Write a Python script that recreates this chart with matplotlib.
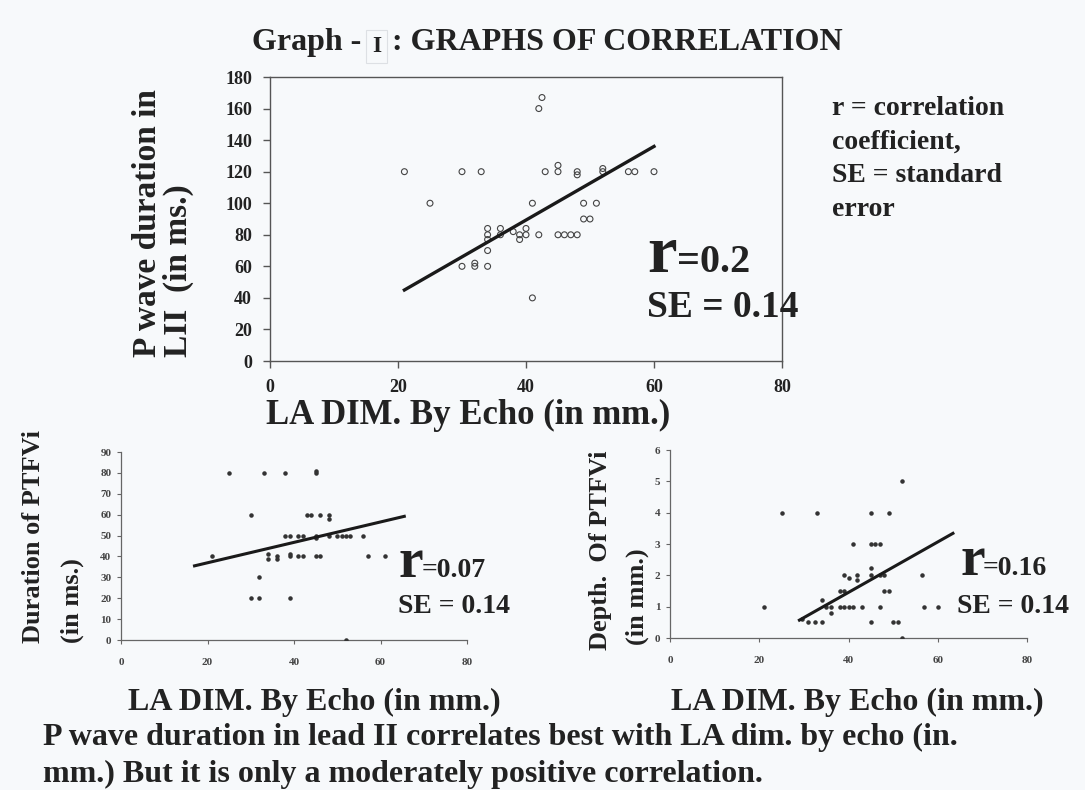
import numpy as np
import matplotlib
matplotlib.use('Agg')
import matplotlib.pyplot as plt

matplotlib.rcParams['font.family'] = ['Liberation Serif', 'DejaVu Serif']
matplotlib.rcParams['font.weight'] = 'bold'
matplotlib.rcParams['text.color'] = '#222222'

W, H = 1085, 790
BG = '#f7f9fb'
INK = '#222222'

# top: P wave duration in LII vs LA dim
la_top = [21, 25, 30, 33, 30, 32, 32, 34, 34, 34, 34, 34, 36, 36, 38, 39, 39, 40, 40,
          41, 41, 42, 42.5, 42, 43, 45, 45, 45, 46, 47, 48, 48, 48, 49, 51, 49, 50,
          52, 52, 56, 57, 60]
pw_top = [120, 100, 120, 120, 60, 62, 60, 84, 80, 77, 70, 60, 84, 80, 82, 80, 77, 84, 80,
          100, 40, 160, 167, 80, 120, 120, 124, 80, 80, 80, 80, 120, 118, 100, 100, 90, 90,
          120, 122, 120, 120, 120]
trend_top_x = [21, 60]
trend_top_y = [45, 136]

# bottom left: duration of PTFV1
la_bl = [25, 33, 38, 45, 45, 30, 43, 44, 46, 48, 48, 38, 39, 41, 42, 45, 45, 48, 50,
         51, 52, 53, 56, 21, 34, 34, 36, 36, 39, 39, 41, 42, 45, 46, 57, 61, 32, 30,
         32, 39, 52]
ptf_dur = [80, 80, 80, 80, 81, 60, 60, 60, 60, 60, 58, 50, 50, 50, 50, 50, 49, 50, 50,
           50, 50, 50, 50, 40, 41, 39, 40, 39, 41, 40, 40, 40, 40, 40, 40, 40, 30, 20,
           20, 20, 0]
trend_bl_x = [17, 65.5]
trend_bl_y = [35.5, 59.2]

# bottom right: depth of PTFV1
la_br = [21, 25, 33, 45, 49, 52, 41, 45, 46, 47, 39, 40, 42, 42, 45, 45, 47, 48, 56.5,
         38, 39, 48, 49, 34, 35, 36, 38, 39, 40, 41, 43, 47, 36, 57, 60, 29.5, 31,
         32.5, 34, 45, 50, 51, 52]
ptf_depth = [1, 4, 4, 4, 4, 5, 3, 3, 3, 3, 2, 1.9, 2, 1.85, 2.25, 2, 2, 2, 2,
             1.5, 1.5, 1.5, 1.5, 1.2, 1, 1, 1, 1, 1, 1, 1, 1, 0.8, 1, 1, 0.6, 0.5,
             0.5, 0.5, 0.5, 0.5, 0.5, 0]
trend_br_x = [29, 63.4]
trend_br_y = [0.57, 3.34]

x_ticks = [0, 20, 40, 60, 80]


def fx(px):
    return px / W


def fy(py):
    return 1 - py / H


fig = plt.figure(figsize=(W / 100, H / 100), dpi=100, facecolor=BG)

ax_top = fig.add_axes([fx(270), fy(361), fx(782) - fx(270), fy(77) - fy(361)])
ax_bl = fig.add_axes([fx(121), fy(640), fx(467) - fx(121), fy(452) - fy(640)])
ax_br = fig.add_axes([fx(670), fy(638), fx(1027) - fx(670), fy(450) - fy(638)])

for ax in (ax_top, ax_bl, ax_br):
    ax.set_facecolor(BG)

# top plot
ax_top.scatter(la_top, pw_top, s=18, facecolors='none', edgecolors='#444444', linewidths=0.8, zorder=3)
ax_top.plot(trend_top_x, trend_top_y, color='#1a1a1a', lw=2.4, zorder=4)
ax_top.set_xlim(0, 80)
ax_top.set_ylim(0, 180)
ax_top.set_xticks(x_ticks)
ax_top.set_yticks(np.arange(0, 181, 20))
for s in ax_top.spines.values():
    s.set_color('#555555')
    s.set_linewidth(1.0)
ax_top.tick_params(axis='y', direction='out', length=5, width=1, color='#555555', pad=8,
                   labelsize=13, labelcolor=INK)
ax_top.tick_params(axis='x', direction='out', length=5, width=1, color='#555555', pad=8,
                   labelsize=13, labelcolor=INK)

# bottom plots
ax_bl.scatter(la_bl, ptf_dur, s=5, color='#333333', zorder=3)
ax_bl.plot(trend_bl_x, trend_bl_y, color='#1a1a1a', lw=2.2, zorder=4)
ax_bl.set_xlim(0, 80)
ax_bl.set_ylim(0, 90)
ax_bl.set_yticks(np.arange(0, 91, 10))

ax_br.scatter(la_br, ptf_depth, s=5, color='#333333', zorder=3)
ax_br.plot(trend_br_x, trend_br_y, color='#1a1a1a', lw=2.2, zorder=4)
ax_br.set_xlim(0, 80)
ax_br.set_ylim(0, 6)
ax_br.set_yticks(np.arange(0, 7, 1))

for ax in (ax_bl, ax_br):
    ax.set_xticks(x_ticks)
    ax.spines['top'].set_visible(False)
    ax.spines['right'].set_visible(False)
    for s in ('left', 'bottom'):
        ax.spines[s].set_color('#666666')
        ax.spines[s].set_linewidth(0.9)
    ax.tick_params(axis='y', direction='out', length=3, width=0.8, color='#666666', pad=4,
                   labelsize=8, labelcolor='#444444')
    ax.tick_params(axis='x', direction='out', length=3, width=0.8, color='#666666', pad=10,
                   labelsize=8, labelcolor='#444444')

# title
t1 = fig.text(fx(252), fy(50), "Graph - ", fontsize=23, ha='left', va='baseline')
t2 = ax_top.annotate("I", xy=(1, 0), xycoords=t1, xytext=(2, 0), textcoords='offset points',
                     fontsize=17, ha='left', va='bottom', annotation_clip=False,
                     bbox=dict(boxstyle='square,pad=0.25', fc='none', ec='#dde0e4', lw=0.8))
ax_top.annotate(" : GRAPHS OF CORRELATION", xy=(1, 0), xycoords=t2, xytext=(2, 0),
                textcoords='offset points', fontsize=23, ha='left', va='bottom',
                annotation_clip=False)

# axis labels
fig.text(fx(147), fy(357), "P wave duration in", fontsize=24, rotation=90, ha='center', va='bottom')
fig.text(fx(178), fy(357), "LII  (in ms.)", fontsize=24, rotation=90, ha='center', va='bottom')
fig.text(fx(468), fy(424), "LA DIM. By Echo (in mm.)", fontsize=25, ha='center', va='baseline')

fig.text(fx(34), fy(643), "Duration of PTFVi", fontsize=19, rotation=90, ha='center', va='bottom')
fig.text(fx(72), fy(643), "(in ms.)", fontsize=19, rotation=90, ha='center', va='bottom')
fig.text(fx(314), fy(710), "LA DIM. By Echo (in mm.)", fontsize=23, ha='center', va='baseline')

fig.text(fx(600), fy(650), "Depth.  Of PTFVi", fontsize=19, rotation=90, ha='center', va='bottom')
fig.text(fx(637), fy(645), "(in mm.)", fontsize=19, rotation=90, ha='center', va='bottom')
fig.text(fx(857), fy(710), "LA DIM. By Echo (in mm.)", fontsize=23, ha='center', va='baseline')

# r and SE annotations
fig.text(fx(647), fy(272), "r", fontsize=48, ha='left', va='baseline')
fig.text(fx(677), fy(272), "=0.2", fontsize=29, ha='left', va='baseline')
fig.text(fx(647), fy(317), "SE = 0.14", fontsize=27, ha='left', va='baseline')

fig.text(fx(399), fy(577), "r", fontsize=40, ha='left', va='baseline')
fig.text(fx(422), fy(577), "=0.07", fontsize=20, ha='left', va='baseline')
fig.text(fx(398), fy(613), "SE = 0.14", fontsize=20, ha='left', va='baseline')

fig.text(fx(960), fy(575), "r", fontsize=40, ha='left', va='baseline')
fig.text(fx(983), fy(575), "=0.16", fontsize=20, ha='left', va='baseline')
fig.text(fx(957), fy(613), "SE = 0.14", fontsize=20, ha='left', va='baseline')

# legend text
for txt, base in zip(["r = correlation", "coefficient,", "SE = standard", "error"],
                     [115, 149, 182, 216]):
    fig.text(fx(832), fy(base), txt, fontsize=20, ha='left', va='baseline')

# footer
fig.text(fx(43), fy(745), "P wave duration in lead II correlates best with LA dim. by echo (in.",
         fontsize=23, ha='left', va='baseline')
fig.text(fx(43), fy(782), "mm.) But it is only a moderately positive correlation.",
         fontsize=23, ha='left', va='baseline')

plt.savefig('out.png', dpi=100, facecolor=BG)
